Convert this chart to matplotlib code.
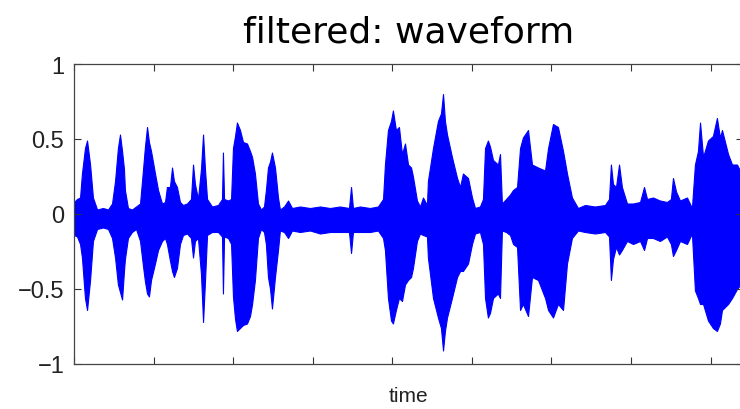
import matplotlib
matplotlib.use("Agg")
import matplotlib.pyplot as plt

# envelope of the filtered waveform (time in s, amplitude)
time_s = [0.000, 0.019, 0.038, 0.050, 0.069, 0.082, 0.101, 0.119, 0.145, 0.182,
          0.214, 0.239, 0.258, 0.276, 0.289, 0.302, 0.314, 0.320, 0.339, 0.364,
          0.390, 0.415, 0.434, 0.446, 0.459, 0.471, 0.484, 0.509, 0.528, 0.553,
          0.572, 0.584, 0.603, 0.616, 0.628, 0.647, 0.666, 0.685, 0.710, 0.735,
          0.748, 0.760, 0.779, 0.798, 0.811, 0.823, 0.836, 0.867, 0.905, 0.930,
          0.936, 0.943, 0.968, 0.987, 0.999, 1.012, 1.024, 1.043, 1.062, 1.087,
          1.106, 1.119, 1.137, 1.156, 1.175, 1.194, 1.206, 1.219, 1.232, 1.244,
          1.263, 1.282, 1.294, 1.320, 1.345, 1.370, 1.420, 1.483, 1.546, 1.609,
          1.671, 1.728, 1.741, 1.753, 1.797, 1.860, 1.910, 1.942, 1.954, 1.973,
          1.992, 2.004, 2.023, 2.042, 2.061, 2.080, 2.099, 2.118, 2.130, 2.155,
          2.174, 2.193, 2.218, 2.224, 2.256, 2.287, 2.306, 2.319, 2.331, 2.344,
          2.375, 2.407, 2.426, 2.444, 2.476, 2.501, 2.520, 2.551, 2.570, 2.583,
          2.601, 2.614, 2.633, 2.664, 2.677, 2.689, 2.715, 2.740, 2.759, 2.784,
          2.803, 2.821, 2.853, 2.878, 2.916, 2.960, 2.979, 3.010, 3.041, 3.073,
          3.098, 3.129, 3.167, 3.211, 3.274, 3.337, 3.362, 3.374, 3.387, 3.406,
          3.425, 3.443, 3.475, 3.513, 3.557, 3.582, 3.601, 3.638, 3.682, 3.726,
          3.751, 3.764, 3.783, 3.808, 3.852, 3.883, 3.902, 3.921, 3.934, 3.953,
          3.984, 4.015, 4.040, 4.059, 4.072, 4.110, 4.135, 4.166, 4.204]

env_upper = [0.08, 0.10, 0.11, 0.27, 0.44, 0.49, 0.33, 0.11, 0.03, 0.04,
             0.03, 0.07, 0.22, 0.44, 0.53, 0.42, 0.30, 0.16, 0.04, 0.03,
             0.05, 0.07, 0.30, 0.45, 0.58, 0.48, 0.42, 0.27, 0.16, 0.07,
             0.08, 0.18, 0.18, 0.31, 0.22, 0.18, 0.08, 0.06, 0.07, 0.10,
             0.33, 0.20, 0.10, 0.30, 0.53, 0.30, 0.10, 0.05, 0.06, 0.10,
             0.41, 0.10, 0.09, 0.10, 0.44, 0.52, 0.61, 0.56, 0.48, 0.47,
             0.42, 0.38, 0.27, 0.07, 0.03, 0.05, 0.16, 0.31, 0.35, 0.41,
             0.31, 0.11, 0.03, 0.05, 0.09, 0.04, 0.05, 0.04, 0.05, 0.04,
             0.05, 0.04, 0.18, 0.04, 0.05, 0.04, 0.05, 0.10, 0.33, 0.56,
             0.62, 0.69, 0.56, 0.58, 0.40, 0.47, 0.33, 0.31, 0.25, 0.09,
             0.05, 0.11, 0.06, 0.22, 0.44, 0.62, 0.67, 0.80, 0.62, 0.53,
             0.38, 0.24, 0.18, 0.27, 0.24, 0.11, 0.04, 0.05, 0.10, 0.44,
             0.49, 0.45, 0.36, 0.33, 0.40, 0.07, 0.10, 0.13, 0.16, 0.18,
             0.44, 0.51, 0.56, 0.33, 0.31, 0.29, 0.44, 0.60, 0.58, 0.42,
             0.27, 0.11, 0.04, 0.06, 0.05, 0.06, 0.10, 0.33, 0.20, 0.18,
             0.33, 0.18, 0.07, 0.07, 0.08, 0.18, 0.10, 0.11, 0.09, 0.08,
             0.10, 0.24, 0.15, 0.09, 0.11, 0.04, 0.33, 0.42, 0.61, 0.38,
             0.49, 0.52, 0.64, 0.51, 0.56, 0.40, 0.33, 0.33, 0.25]

env_lower = [-0.14, -0.15, -0.20, -0.29, -0.56, -0.64, -0.44, -0.18, -0.10, -0.09,
             -0.10, -0.16, -0.29, -0.47, -0.52, -0.57, -0.38, -0.30, -0.16, -0.12,
             -0.10, -0.18, -0.35, -0.45, -0.53, -0.55, -0.44, -0.33, -0.24, -0.18,
             -0.16, -0.20, -0.31, -0.38, -0.42, -0.36, -0.20, -0.14, -0.13, -0.16,
             -0.29, -0.18, -0.16, -0.40, -0.72, -0.45, -0.14, -0.12, -0.12, -0.15,
             -0.53, -0.15, -0.16, -0.20, -0.55, -0.70, -0.78, -0.76, -0.74, -0.73,
             -0.68, -0.60, -0.44, -0.16, -0.10, -0.12, -0.20, -0.42, -0.50, -0.63,
             -0.42, -0.24, -0.11, -0.12, -0.16, -0.11, -0.12, -0.11, -0.13, -0.12,
             -0.12, -0.12, -0.26, -0.12, -0.12, -0.12, -0.11, -0.16, -0.24, -0.56,
             -0.71, -0.73, -0.64, -0.56, -0.58, -0.47, -0.44, -0.42, -0.36, -0.18,
             -0.13, -0.14, -0.15, -0.29, -0.56, -0.69, -0.76, -0.91, -0.78, -0.69,
             -0.56, -0.42, -0.38, -0.38, -0.33, -0.20, -0.13, -0.12, -0.20, -0.56,
             -0.69, -0.66, -0.56, -0.53, -0.56, -0.11, -0.12, -0.14, -0.20, -0.22,
             -0.64, -0.60, -0.68, -0.42, -0.44, -0.56, -0.64, -0.69, -0.60, -0.64,
             -0.33, -0.16, -0.11, -0.12, -0.13, -0.12, -0.15, -0.44, -0.30, -0.22,
             -0.27, -0.24, -0.18, -0.20, -0.18, -0.24, -0.16, -0.16, -0.18, -0.15,
             -0.20, -0.28, -0.24, -0.18, -0.20, -0.13, -0.51, -0.56, -0.60, -0.60,
             -0.71, -0.76, -0.78, -0.73, -0.64, -0.60, -0.56, -0.50, -0.45]

x_ticks = [0, 0.5, 1.0, 1.5, 2.0, 2.5, 3.0, 3.5, 4.0]
y_ticks = [-1, -0.5, 0, 0.5, 1]
y_tick_labels = ["\u22121", "\u22120.5", "0", "0.5", "1"]
title_text = "filtered: waveform"
x_label_text = "time"

fig = plt.figure(figsize=(7.4, 4.1), dpi=100)
ax = fig.add_axes([74 / 740, 45 / 410, 669 / 740, 300 / 410])

ax.fill_between(time_s, env_lower, env_upper, color="#0000ff",
                edgecolor="#0000ff", linewidth=0.8)

ax.set_xlim(0, 4.204)
ax.set_ylim(-1, 1)
ax.set_xticks(x_ticks)
ax.set_xticklabels([])
ax.set_yticks(y_ticks)
ax.set_yticklabels(y_tick_labels, fontfamily="Liberation Sans", fontsize=17,
                   color="#222222")
ax.tick_params(direction="in", top=True, right=True, length=5, width=0.8,
               color="#333333", pad=7)
for sp in ax.spines.values():
    sp.set_color("#444444")
    sp.set_linewidth(0.9)

ax.set_title(title_text, fontfamily="DejaVu Sans", fontsize=26, pad=16.5,
             color="#000000")
ax.set_xlabel(x_label_text, fontfamily="Liberation Sans", fontsize=15,
              color="#222222", labelpad=9)

fig.savefig("out.png", dpi=100)
